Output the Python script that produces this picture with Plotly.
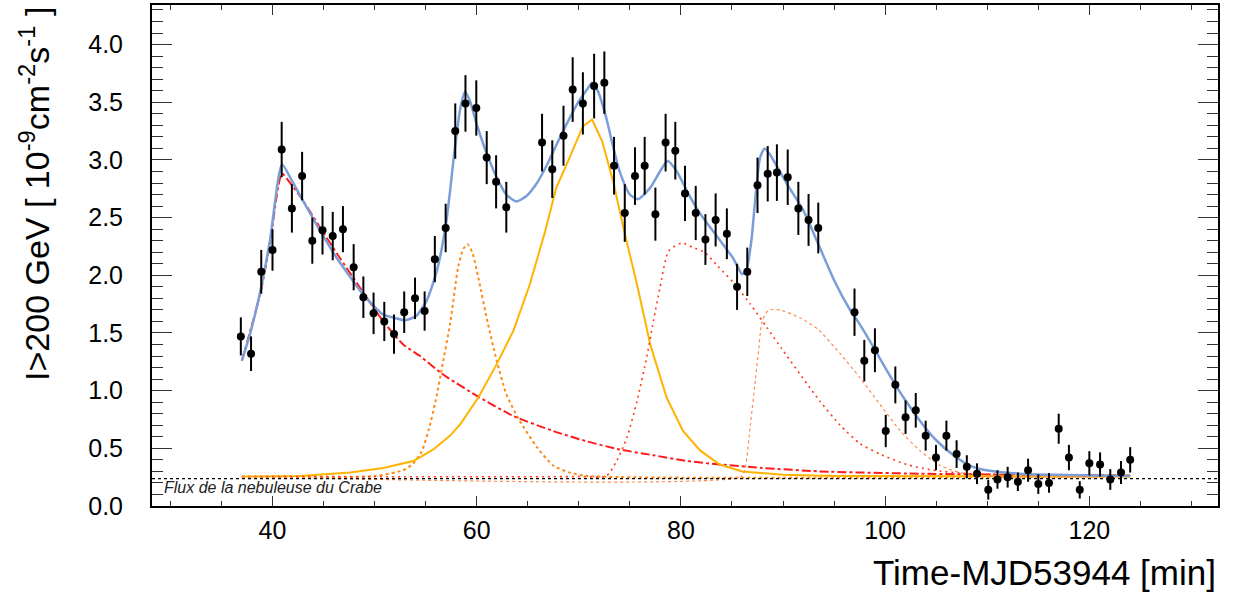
import plotly.graph_objects as go

# ---------------- data points ----------------
time_min = [36.9, 37.9, 38.9, 40.0, 40.9, 41.9, 42.9, 43.9, 44.9, 45.9, 46.9, 47.95,
            48.9, 49.9, 50.95, 51.9, 52.9, 53.96, 54.9, 55.9, 56.96, 57.9, 58.9, 59.96,
            60.98, 61.9, 62.9, 66.4, 67.4, 68.5, 69.4, 70.4, 71.5, 72.5, 73.45, 74.5,
            75.5, 76.45, 77.5, 78.5, 79.45, 80.4, 81.45, 82.4, 83.4, 84.5, 85.5, 86.5,
            87.5, 88.5, 89.4, 90.46, 91.5, 92.5, 93.45, 97.0, 97.96, 99.0, 100.06, 101.0,
            102.0, 103.0, 103.97, 104.98, 106.0, 107.0, 108.0, 109.0, 110.1, 111.0, 112.0,
            113.0, 114.0, 115.0, 116.05, 117.0, 118.0, 119.06, 120.0, 121.05, 122.05,
            123.1, 124.0]
flux = [1.47, 1.32, 2.03, 2.22, 3.09, 2.58, 2.86, 2.30, 2.39, 2.34, 2.40, 2.07,
        1.81, 1.67, 1.60, 1.49, 1.68, 1.80, 1.69, 2.14, 2.41, 3.25, 3.49, 3.45,
        3.02, 2.81, 2.59, 3.15, 2.92, 3.21, 3.61, 3.49, 3.64, 3.67, 2.95, 2.54,
        2.86, 2.95, 2.53, 3.15, 3.08, 2.71, 2.54, 2.31, 2.48, 2.36, 1.90, 2.03,
        2.78, 2.88, 2.89, 2.85, 2.58, 2.48, 2.41, 1.68, 1.26, 1.35, 0.65, 1.05,
        0.77, 0.83, 0.61, 0.42, 0.61, 0.45, 0.34, 0.28, 0.14, 0.23, 0.25,
        0.21, 0.31, 0.19, 0.20, 0.67, 0.42, 0.14, 0.37, 0.36, 0.23,
        0.29, 0.40]
flux_err = [0.165, 0.15, 0.19, 0.18, 0.24, 0.21, 0.21, 0.20, 0.21, 0.21, 0.20, 0.20,
            0.18, 0.18, 0.17, 0.17, 0.18, 0.18, 0.17, 0.20, 0.21, 0.24, 0.245, 0.24,
            0.23, 0.23, 0.22, 0.25, 0.25, 0.26, 0.28, 0.27, 0.28, 0.27, 0.25, 0.25,
            0.25, 0.25, 0.23, 0.25, 0.25, 0.24, 0.235, 0.22, 0.23, 0.22, 0.20, 0.21,
            0.24, 0.24, 0.245, 0.24, 0.23, 0.225, 0.22, 0.205, 0.18, 0.19, 0.14, 0.16,
            0.145, 0.15, 0.13, 0.11, 0.13, 0.12, 0.10, 0.09, 0.085, 0.08, 0.09,
            0.08, 0.10, 0.085, 0.085, 0.13, 0.11, 0.075, 0.105, 0.105, 0.09,
            0.10, 0.11]

# ---------------- fitted curves ----------------
total_t = [37.0, 37.8, 38.8, 39.75, 40.93, 41.9, 42.9, 44.9, 46.3, 47.9, 48.9, 50.85,
           52.0, 53.0, 54.1, 55.1, 56.1, 57.0, 57.9, 58.4, 58.85, 59.34, 60.0, 61.0,
           62.0, 62.9, 63.9, 64.9, 65.9, 66.9, 67.8, 68.8, 69.8, 70.8, 71.3, 71.9,
           72.7, 73.4, 74.0, 75.0, 75.8, 77.0, 77.95, 78.7, 79.6, 80.6, 81.55, 82.4,
           83.6, 85.1, 86.0, 86.4, 86.9, 87.26, 87.75, 88.2, 88.7, 90.4, 92.0, 93.6,
           95.1, 96.5, 97.55, 98.9, 100.2, 101.8, 103.4, 105.0, 106.7, 108.3, 109.9,
           113.2, 116.5, 124.0]
total_f = [1.26, 1.49, 1.86, 2.30, 2.96, 2.82, 2.66, 2.35, 2.15, 1.95, 1.83, 1.66,
           1.63, 1.61, 1.65, 1.78, 2.04, 2.45, 3.13, 3.45, 3.59, 3.51, 3.31, 3.05,
           2.84, 2.70, 2.64, 2.69, 2.80, 2.96, 3.13, 3.31, 3.48, 3.61, 3.67, 3.59,
           3.36, 3.10, 2.90, 2.70, 2.66, 2.76, 2.90, 2.99, 2.90, 2.73, 2.58, 2.47,
           2.33, 2.15, 2.01, 2.04, 2.30, 2.64, 3.02, 3.10, 3.05, 2.79, 2.56, 2.24,
           1.94, 1.71, 1.57, 1.37, 1.17, 0.94, 0.74, 0.57, 0.44, 0.35, 0.31,
           0.28, 0.27, 0.26]

flare1_t = [37.0, 38.8, 39.75, 40.93, 41.9, 42.9, 44.9, 46.6, 47.9, 50.85, 52.8, 54.45,
            56.4, 57.2, 60.3, 63.6, 67.5, 70.8, 74.0, 77.3, 80.6, 83.8, 88.0, 93.6,
            103.4, 113.0, 124.0]
flare1_f = [1.26, 1.84, 2.27, 2.88, 2.78, 2.66, 2.38, 2.15, 1.98, 1.60, 1.40, 1.30,
            1.16, 1.11, 0.94, 0.78, 0.65, 0.56, 0.49, 0.44, 0.39, 0.36, 0.33, 0.30,
            0.28, 0.27, 0.265]

flare2_t = [37.0, 50.0, 52.8, 53.8, 54.6, 55.3, 56.0, 56.6, 57.4, 58.2, 58.7, 59.1,
            59.6, 60.16, 61.1, 61.96, 62.9, 64.2, 65.9, 67.5, 69.1, 70.8, 124.0]
flare2_f = [0.255, 0.26, 0.31, 0.37, 0.47, 0.66, 0.92, 1.20, 1.58, 2.08, 2.23, 2.27,
            2.19, 1.98, 1.58, 1.26, 0.97, 0.74, 0.51, 0.35, 0.29, 0.26, 0.255]

flare3_t = [37.0, 42.7, 47.6, 50.85, 53.8, 55.75, 57.4, 58.4, 60.16, 61.96, 63.6, 65.2,
            66.7, 67.8, 68.8, 70.4, 71.3, 72.3, 73.4, 74.4, 75.7, 77.0, 78.6, 80.2,
            81.9, 83.8, 86.0, 90.0, 95.0, 124.0]
flare3_f = [0.255, 0.26, 0.29, 0.33, 0.39, 0.49, 0.61, 0.71, 0.94, 1.23, 1.52, 1.92,
            2.38, 2.76, 2.96, 3.29, 3.35, 3.16, 2.80, 2.40, 1.92, 1.40, 0.94, 0.65,
            0.48, 0.36, 0.30, 0.27, 0.26, 0.255]

flare4_t = [37.0, 70.0, 72.7, 73.7, 74.7, 75.7, 76.65, 77.3, 77.95, 78.8, 80.1, 81.2,
            82.3, 83.6, 85.1, 86.8, 88.4, 89.9, 93.6, 95.6, 97.55, 99.5, 102.1, 104.7,
            108.3, 124.0]
flare4_f = [0.255, 0.255, 0.26, 0.39, 0.59, 0.91, 1.29, 1.60, 1.89, 2.21, 2.28, 2.24,
            2.20, 2.08, 1.94, 1.75, 1.55, 1.36, 0.91, 0.70, 0.54, 0.45, 0.36, 0.31,
            0.28, 0.26]

flare5_t = [37.0, 85.9, 86.3, 86.8, 87.3, 87.6, 87.9, 88.3, 88.7, 89.7, 91.7, 93.45,
            95.6, 97.55, 99.5, 101.5, 103.4, 105.4, 107.3, 109.3, 124.0]
flare5_f = [0.255, 0.255, 0.33, 0.70, 1.10, 1.34, 1.58, 1.67, 1.70, 1.70, 1.63, 1.53,
            1.32, 1.11, 0.88, 0.65, 0.48, 0.35, 0.29, 0.26, 0.255]

crab_flux = 0.237
crab_label = "Flux de la nebuleuse du Crabe"

x_range = [28.2, 132.6]
y_range = [0.0, 4.343]

FONT = "Liberation Sans, Arial, Helvetica, sans-serif"

fig = go.Figure()

def curve(t, f, color, width, dash, shape="spline"):
    line = dict(color=color, width=width, dash=dash, shape=shape)
    if shape == "spline":
        line["smoothing"] = 0.6
    fig.add_trace(go.Scatter(x=t, y=f, mode="lines", line=line,
                             hoverinfo="skip", showlegend=False))

curve(flare1_t, flare1_f, "#ff1a1a", 2, "dashdot")
curve(flare2_t, flare2_f, "#ff8c1a", 2, "dot")
curve(flare3_t, flare3_f, "#ffb300", 2, "solid", shape="linear")
curve(flare4_t, flare4_f, "#ff3a1a", 1.6, "2px,4px")
curve(flare5_t, flare5_f, "#ff8a50", 1.2, "dot")
curve(total_t, total_f, "#7b9ed8", 2.5, "solid")

fig.add_hline(y=crab_flux, line=dict(color="black", width=1.3, dash="dot"))

fig.add_trace(go.Scatter(
    x=time_min, y=flux, mode="markers",
    marker=dict(color="black", size=8),
    error_y=dict(type="data", array=flux_err, visible=True, color="black",
                 thickness=2, width=0),
    hoverinfo="skip", showlegend=False))

fig.add_annotation(text="<i>" + crab_label + "</i>", xref="paper", yref="y",
                   x=0.0095, y=0.16, xanchor="left", yanchor="middle", showarrow=False,
                   font=dict(family=FONT, size=16, color="#222"))

fig.add_annotation(text="Time-MJD53944 [min]", xref="paper", yref="paper",
                   x=1.0, y=-0.133, xanchor="right", yanchor="middle",
                   showarrow=False, font=dict(family=FONT, size=35, color="black"))

fig.add_annotation(text="I>200 GeV [ 10<sup>-9</sup>cm<sup>-2</sup>s<sup>-1</sup> ]",
                   xref="paper", yref="paper", x=-0.1107, y=1.0,
                   xanchor="center", yanchor="top", textangle=-90,
                   showarrow=False, font=dict(family=FONT, size=34, color="black"))

fig.update_xaxes(range=x_range, tick0=0, dtick=20, ticks="inside", ticklen=10,
                 tickwidth=1.3, tickcolor="#333", showline=True, linecolor="black",
                 linewidth=2, mirror="ticks", showgrid=False, zeroline=False,
                 tickfont=dict(family=FONT, size=25, color="black"),
                 ticklabelstandoff=1,
                 minor=dict(dtick=5, ticks="inside", ticklen=5, tickcolor="#333",
                            tickwidth=1.3, showgrid=False))
fig.update_yaxes(range=y_range, tick0=0, dtick=0.5, tickformat=".1f", ticks="inside",
                 ticklen=20, tickwidth=1.3, tickcolor="#333", showline=True,
                 linecolor="black", linewidth=2, mirror="ticks", showgrid=False,
                 zeroline=False, tickfont=dict(family=FONT, size=25, color="black"),
                 ticklabelstandoff=22,
                 minor=dict(dtick=0.1, ticks="inside", ticklen=11, tickcolor="#333",
                            tickwidth=1.3, showgrid=False))

fig.update_layout(width=1234, height=594, margin=dict(l=152, r=16, t=3, b=88),
                  paper_bgcolor="white", plot_bgcolor="white", showlegend=False,
                  font=dict(family=FONT))

fig.write_html("out.html", config={"displayModeBar": False},
               post_script="document.body.style.margin='0';"
                           "document.body.style.overflow='hidden';")
